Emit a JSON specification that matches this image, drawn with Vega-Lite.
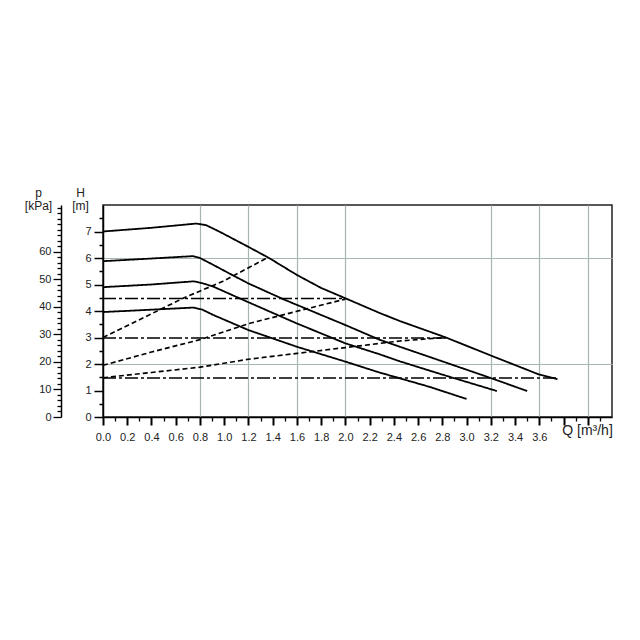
{
  "$schema": "https://vega.github.io/schema/vega-lite/v6.json",
  "width": 509,
  "height": 212,
  "autosize": "none",
  "padding": {"left": 103, "top": 205, "right": 28, "bottom": 223},
  "background": "white",
  "config": {
    "font": "Liberation Sans",
    "view": {"stroke": "#222", "strokeWidth": 1.5},
    "axis": {
      "domainColor": "black",
      "domainWidth": 1.5,
      "tickColor": "black",
      "labelColor": "#222",
      "labelFontSize": 11,
      "titleColor": "#222",
      "titleFontWeight": "normal",
      "gridColor": "#a7b5b5",
      "gridWidth": 1.2
    }
  },
  "datasets": {
    "curves": [
      {"s": "c1", "k": "solid", "Q": 0, "H": 7.0},
      {"s": "c1", "k": "solid", "Q": 0.4, "H": 7.14},
      {"s": "c1", "k": "solid", "Q": 0.77, "H": 7.3},
      {"s": "c1", "k": "solid", "Q": 0.85, "H": 7.24},
      {"s": "c1", "k": "solid", "Q": 0.95, "H": 7.02},
      {"s": "c1", "k": "solid", "Q": 1.2, "H": 6.42},
      {"s": "c1", "k": "solid", "Q": 1.37, "H": 6.0},
      {"s": "c1", "k": "solid", "Q": 1.6, "H": 5.36},
      {"s": "c1", "k": "solid", "Q": 1.8, "H": 4.87},
      {"s": "c1", "k": "solid", "Q": 2.0, "H": 4.48},
      {"s": "c1", "k": "solid", "Q": 2.28, "H": 3.93},
      {"s": "c1", "k": "solid", "Q": 2.45, "H": 3.62},
      {"s": "c1", "k": "solid", "Q": 2.83, "H": 3.0},
      {"s": "c1", "k": "solid", "Q": 3.2, "H": 2.32},
      {"s": "c1", "k": "solid", "Q": 3.6, "H": 1.6},
      {"s": "c1", "k": "solid", "Q": 3.75, "H": 1.43},
      {"s": "c2", "k": "solid", "Q": 0, "H": 5.88},
      {"s": "c2", "k": "solid", "Q": 0.4, "H": 5.98},
      {"s": "c2", "k": "solid", "Q": 0.74, "H": 6.07},
      {"s": "c2", "k": "solid", "Q": 0.8, "H": 6.0},
      {"s": "c2", "k": "solid", "Q": 0.91, "H": 5.74},
      {"s": "c2", "k": "solid", "Q": 1.07, "H": 5.35},
      {"s": "c2", "k": "solid", "Q": 1.2, "H": 5.04},
      {"s": "c2", "k": "solid", "Q": 1.49, "H": 4.44},
      {"s": "c2", "k": "solid", "Q": 1.6, "H": 4.23},
      {"s": "c2", "k": "solid", "Q": 2.0, "H": 3.47},
      {"s": "c2", "k": "solid", "Q": 2.28, "H": 2.92},
      {"s": "c2", "k": "solid", "Q": 2.45, "H": 2.65},
      {"s": "c2", "k": "solid", "Q": 2.8, "H": 2.1},
      {"s": "c2", "k": "solid", "Q": 3.2, "H": 1.47},
      {"s": "c2", "k": "solid", "Q": 3.5, "H": 0.98},
      {"s": "c3", "k": "solid", "Q": 0, "H": 4.9},
      {"s": "c3", "k": "solid", "Q": 0.4, "H": 5.0},
      {"s": "c3", "k": "solid", "Q": 0.75, "H": 5.12},
      {"s": "c3", "k": "solid", "Q": 0.82, "H": 5.05},
      {"s": "c3", "k": "solid", "Q": 0.91, "H": 4.92},
      {"s": "c3", "k": "solid", "Q": 1.2, "H": 4.33},
      {"s": "c3", "k": "solid", "Q": 1.6, "H": 3.53},
      {"s": "c3", "k": "solid", "Q": 2.0, "H": 2.78},
      {"s": "c3", "k": "solid", "Q": 2.28, "H": 2.37},
      {"s": "c3", "k": "solid", "Q": 2.45, "H": 2.1},
      {"s": "c3", "k": "solid", "Q": 2.8, "H": 1.6},
      {"s": "c3", "k": "solid", "Q": 3.25, "H": 0.98},
      {"s": "c4", "k": "solid", "Q": 0, "H": 3.96},
      {"s": "c4", "k": "solid", "Q": 0.4, "H": 4.05},
      {"s": "c4", "k": "solid", "Q": 0.75, "H": 4.13},
      {"s": "c4", "k": "solid", "Q": 0.82, "H": 4.05},
      {"s": "c4", "k": "solid", "Q": 0.91, "H": 3.85},
      {"s": "c4", "k": "solid", "Q": 1.2, "H": 3.28},
      {"s": "c4", "k": "solid", "Q": 1.6, "H": 2.65},
      {"s": "c4", "k": "solid", "Q": 2.0, "H": 2.09},
      {"s": "c4", "k": "solid", "Q": 2.28, "H": 1.68},
      {"s": "c4", "k": "solid", "Q": 2.45, "H": 1.46},
      {"s": "c4", "k": "solid", "Q": 2.7, "H": 1.13},
      {"s": "c4", "k": "solid", "Q": 3.0, "H": 0.68},
      {"s": "d1", "k": "dashed", "Q": 0, "H": 3.0},
      {"s": "d1", "k": "dashed", "Q": 0.67, "H": 4.5},
      {"s": "d1", "k": "dashed", "Q": 0.99, "H": 5.12},
      {"s": "d1", "k": "dashed", "Q": 1.36, "H": 6.02},
      {"s": "d2", "k": "dashed", "Q": 0, "H": 1.95},
      {"s": "d2", "k": "dashed", "Q": 0.4, "H": 2.45},
      {"s": "d2", "k": "dashed", "Q": 0.8, "H": 2.92},
      {"s": "d2", "k": "dashed", "Q": 1.2, "H": 3.52},
      {"s": "d2", "k": "dashed", "Q": 1.6, "H": 3.99},
      {"s": "d2", "k": "dashed", "Q": 2.0, "H": 4.45},
      {"s": "d3", "k": "dashed", "Q": 0, "H": 1.48},
      {"s": "d3", "k": "dashed", "Q": 0.4, "H": 1.68},
      {"s": "d3", "k": "dashed", "Q": 0.8, "H": 1.88},
      {"s": "d3", "k": "dashed", "Q": 1.2, "H": 2.18},
      {"s": "d3", "k": "dashed", "Q": 1.6, "H": 2.4},
      {"s": "d3", "k": "dashed", "Q": 2.0, "H": 2.62},
      {"s": "d3", "k": "dashed", "Q": 2.45, "H": 2.87},
      {"s": "d3", "k": "dashed", "Q": 2.83, "H": 3.0},
      {"s": "e1", "k": "dashdot", "Q": 0, "H": 4.47},
      {"s": "e1", "k": "dashdot", "Q": 2.0, "H": 4.47},
      {"s": "e2", "k": "dashdot", "Q": 0, "H": 2.98},
      {"s": "e2", "k": "dashdot", "Q": 2.84, "H": 2.98},
      {"s": "e3", "k": "dashdot", "Q": 0, "H": 1.47},
      {"s": "e3", "k": "dashdot", "Q": 3.75, "H": 1.47}
    ],
    "p_range": [{"p": 0}, {"p": 77}]
  },
  "layer": [
    {
      "data": {"name": "curves"},
      "mark": {"type": "line", "color": "black", "strokeJoin": "round"},
      "encoding": {
        "x": {
          "field": "Q",
          "type": "quantitative",
          "scale": {"domain": [0, 4.2], "nice": false, "zero": false},
          "axis": {
            "values": [0, 0.1, 0.2, 0.3, 0.4, 0.5, 0.6, 0.7, 0.8, 0.9, 1.0, 1.1, 1.2, 1.3, 1.4, 1.5, 1.6, 1.7, 1.8, 1.9, 2.0, 2.1, 2.2, 2.3, 2.4, 2.5, 2.6, 2.7, 2.8, 2.9, 3.0, 3.1, 3.2, 3.3, 3.4, 3.5, 3.6, 3.7, 3.8, 3.9, 4.0, 4.1],
            "labelExpr": "datum.value <= 3.65 && round(datum.value * 10) % 2 == 0 ? format(datum.value, '.1f') : ''",
            "tickSize": {"condition": {"test": "round(datum.value * 10) % 2 == 0", "value": 8}, "value": 4},
            "tickWidth": {"condition": {"test": "round(datum.value * 10) % 2 == 0", "value": 2}, "value": 1.3},
            "labelPadding": 6,
            "labelFlush": false,
            "labelOverlap": false,
            "grid": true,
            "gridOpacity": {"condition": {"test": "indexof([8, 12, 16, 20, 32, 36, 40], round(datum.value * 10)) >= 0", "value": 1}, "value": 0},
            "title": "Q [m³/h]",
            "titleFontSize": 14,
            "titleX": 484,
            "titleY": 17,
            "titleAlign": "center",
            "titleBaseline": "alphabetic"
          }
        },
        "y": {
          "field": "H",
          "type": "quantitative",
          "scale": {"domain": [0, 8], "nice": false},
          "axis": {
            "values": [0, 0.5, 1, 1.5, 2, 2.5, 3, 3.5, 4, 4.5, 5, 5.5, 6, 6.5, 7, 7.5],
            "labelExpr": "datum.value % 1 == 0 ? format(datum.value, 'd') : ''",
            "tickSize": {"condition": {"test": "datum.value % 1 == 0", "value": 9}, "value": 4},
            "tickWidth": 1.5,
            "labelPadding": 3,
            "labelOverlap": false,
            "grid": true,
            "gridOpacity": {"condition": {"test": "datum.value == 2 || datum.value == 6", "value": 1}, "value": 0},
            "title": ["H", "[m]"],
            "titleFontSize": 12,
            "titleLineHeight": 13,
            "titleAngle": 0,
            "titleAlign": "center",
            "titleBaseline": "alphabetic",
            "titleX": -23,
            "titleY": -9
          }
        },
        "detail": {"field": "s"},
        "strokeDash": {
          "field": "k",
          "type": "nominal",
          "scale": {"domain": ["solid", "dashed", "dashdot"], "range": [[1, 0], [5, 3], [13, 3, 3, 3]]},
          "legend": null
        },
        "strokeWidth": {
          "field": "k",
          "type": "ordinal",
          "scale": {"domain": ["solid", "dashed", "dashdot"], "range": [1.8, 1.5, 2.5]},
          "legend": null
        }
      }
    },
    {
      "data": {"name": "p_range"},
      "mark": {"type": "point", "opacity": 0},
      "encoding": {
        "y": {
          "field": "p",
          "type": "quantitative",
          "scale": {"domain": [0, 77], "nice": false},
          "axis": {
            "orient": "left",
            "offset": 42,
            "values": [0, 2, 4, 6, 8, 10, 12, 14, 16, 18, 20, 22, 24, 26, 28, 30, 32, 34, 36, 38, 40, 42, 44, 46, 48, 50, 52, 54, 56, 58, 60, 62, 64, 66, 68, 70, 72, 74, 76],
            "labelExpr": "datum.value % 10 == 0 && datum.value <= 60 ? format(datum.value, 'd') : ''",
            "tickSize": {"condition": {"test": "datum.value % 10 == 0 && datum.value <= 60", "value": 8}, "value": 4},
            "tickWidth": 1.3,
            "labelPadding": 2,
            "labelOverlap": false,
            "grid": false,
            "title": ["p", "[kPa]"],
            "titleFontSize": 12,
            "titleLineHeight": 13,
            "titleAngle": 0,
            "titleAlign": "center",
            "titleBaseline": "alphabetic",
            "titleX": -23,
            "titleY": -9
          }
        }
      }
    }
  ],
  "resolve": {"scale": {"y": "independent"}}
}
